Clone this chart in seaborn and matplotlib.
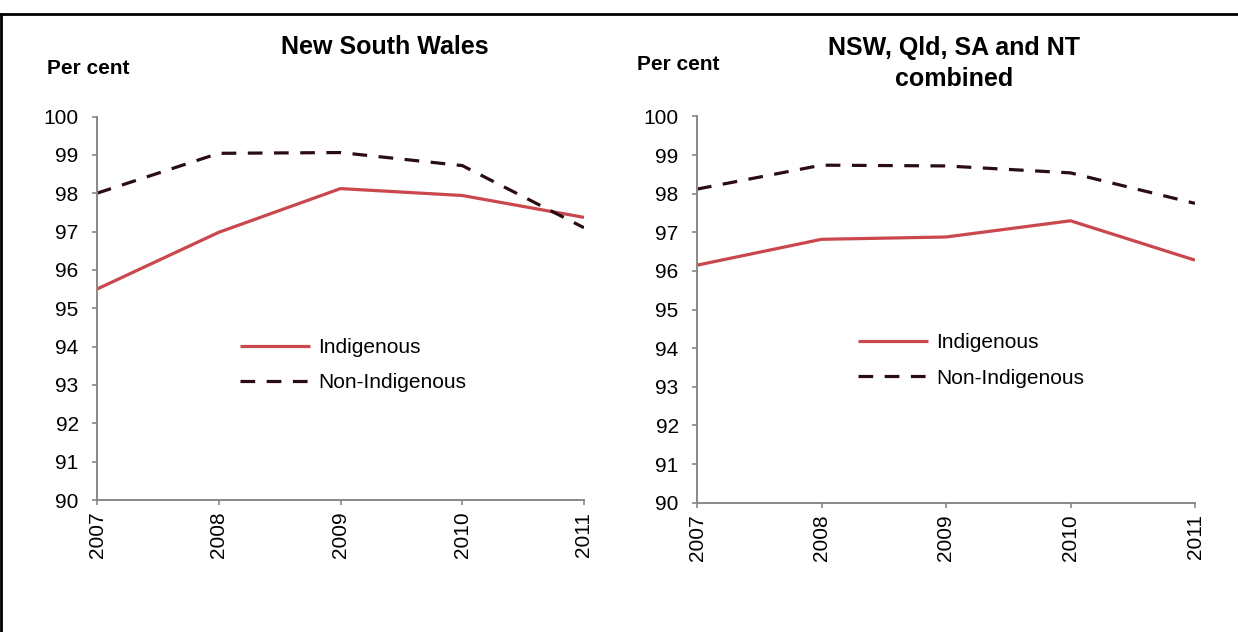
import matplotlib
matplotlib.use("Agg")
import matplotlib.pyplot as plt
from matplotlib.lines import Line2D
import seaborn as sns
import pandas as pd

# ---- data ----
years = [2007, 2008, 2009, 2010, 2011]
series_names = ["Indigenous", "Non-Indigenous"]
nsw_indigenous = [95.50, 96.98, 98.12, 97.94, 97.37]
nsw_non_indigenous = [98.00, 99.04, 99.06, 98.72, 97.10]
comb_indigenous = [96.15, 96.82, 96.88, 97.30, 96.28]
comb_non_indigenous = [98.12, 98.74, 98.72, 98.54, 97.75]
panel_titles = ["New South Wales", "NSW, Qld, SA and NT\ncombined"]
y_label = "Per cent"
y_ticks = [90, 91, 92, 93, 94, 95, 96, 97, 98, 99, 100]

sns.set_theme(style="white")
plt.rcParams['font.family'] = ['Liberation Sans', 'DejaVu Sans']
plt.rcParams['text.color'] = 'black'

W, H = 1238, 632
fig = plt.figure(figsize=(W / 100, H / 100), dpi=100)
fig.patch.set_facecolor("white")

colors = {"Indigenous": "#C9474D", "Non-Indigenous": "#2A0D12"}
dashes = {"Indigenous": "", "Non-Indigenous": (4.6, 3.6)}
spine_col = "#888888"


def px_rect(x0, x1, ytop, ybot):
    return [x0 / W, 1 - ybot / H, (x1 - x0) / W, (ybot - ytop) / H]


panels = [
    dict(data=(nsw_indigenous, nsw_non_indigenous), rect=px_rect(97, 584, 116.5, 500),
         title_x=385, title_y=47, pc_x=47, pc_y=68, leg_x=240, leg_y=365),
    dict(data=(comb_indigenous, comb_non_indigenous), rect=px_rect(697, 1195, 116.5, 502.7),
         title_x=954, title_y=63.5, pc_x=637, pc_y=65, leg_x=858, leg_y=360.5),
]

for i, p in enumerate(panels):
    ind, non = p["data"]
    df = pd.DataFrame({
        "Year": years * 2,
        "Value": list(ind) + list(non),
        "Series": [series_names[0]] * len(years) + [series_names[1]] * len(years),
    })
    ax = fig.add_axes(p["rect"])
    sns.lineplot(data=df, x="Year", y="Value", hue="Series", style="Series",
                 palette=colors, dashes=dashes, linewidth=2.3, ax=ax, legend=True)
    for ln in ax.get_lines():
        ln.set_solid_capstyle("butt")
        ln.set_dash_capstyle("butt")
    ax.set_xlim(years[0], years[-1])
    ax.set_ylim(90, 100)
    ax.set_xticks(years)
    ax.set_xticklabels([str(y) for y in years], rotation=90)
    ax.set_yticks(y_ticks)
    ax.set_xlabel("")
    ax.set_ylabel("")
    for s in ["top", "right"]:
        ax.spines[s].set_visible(False)
    for s in ["left", "bottom"]:
        ax.spines[s].set_color(spine_col)
        ax.spines[s].set_linewidth(1.4)
    ax.tick_params(axis="both", which="major", direction="out", length=3.8, width=1.2,
                   color=spine_col, labelsize=15, labelcolor="black")
    ax.tick_params(axis="y", pad=9.4, left=True)
    ax.tick_params(axis="x", pad=4.5, bottom=True)
    ax.set_facecolor("none")

    handles, labels = ax.get_legend_handles_labels()
    keep = [(h, l) for h, l in zip(handles, labels) if l in series_names]
    ax.get_legend().remove()
    leg = ax.legend([h for h, _ in keep], [l for _, l in keep], loc="center left",
                    bbox_to_anchor=(p["leg_x"] / W, 1 - p["leg_y"] / H),
                    bbox_transform=fig.transFigure, frameon=False, fontsize=15,
                    handlelength=3.35, handletextpad=0.4, labelspacing=0.78,
                    borderpad=0, borderaxespad=0)
    for t in leg.get_texts():
        t.set_color("black")

    fig.text(p["title_x"] / W, 1 - p["title_y"] / H, panel_titles[i], ha="center",
             va="center", fontsize=18, fontweight="bold", linespacing=1.4, color="black")
    fig.text(p["pc_x"] / W, 1 - p["pc_y"] / H, y_label, ha="left", va="center",
             fontsize=15, fontweight="bold", color="black")

# outer border (top and left edges)
fig.add_artist(Line2D([0, 1], [1 - 14 / H, 1 - 14 / H], transform=fig.transFigure,
                      color="black", linewidth=2.0))
fig.add_artist(Line2D([0.5 / W, 0.5 / W], [0, 1 - 14 / H], transform=fig.transFigure,
                      color="black", linewidth=2.0))

fig.savefig("out.png", dpi=100, facecolor="white")
